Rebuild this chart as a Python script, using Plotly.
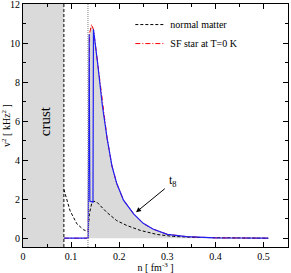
import plotly.graph_objects as go

# ---- data ----
crust_edge = 0.085
sf_onset = 0.135

normal_n = [0.085, 0.098, 0.112, 0.126, 0.133, 0.1355, 0.138, 0.143, 0.1465, 0.1535,
            0.174, 0.195, 0.216, 0.244, 0.279, 0.313, 0.36, 0.40, 0.45, 0.51]
normal_v2 = [2.5, 1.4, 0.74, 0.43, 0.36, 0.4, 1.25, 1.8, 1.9, 1.85,
             1.33, 0.9, 0.65, 0.4, 0.19, 0.09, 0.04, 0.02, 0.01, 0.0]

sf_n = [0.085, 0.1355, 0.1385, 0.1425, 0.1465, 0.155, 0.165, 0.175, 0.185, 0.195,
        0.209, 0.23, 0.25, 0.27, 0.30, 0.34, 0.40, 0.45, 0.51]
sf_v2 = [0.0, 0.0, 10.5, 10.95, 10.7, 9.0, 6.8, 5.1, 3.7, 2.8,
         1.95, 1.25, 0.76, 0.47, 0.2, 0.08, 0.02, 0.01, 0.0]

t8_n = [0.085, 0.1355, 0.1375, 0.139, 0.1455, 0.1465, 0.155, 0.165, 0.175, 0.185,
        0.195, 0.209, 0.23, 0.25, 0.27, 0.30, 0.34, 0.40, 0.45, 0.51]
t8_v2 = [0.0, 0.0, 10.45, 1.9, 1.85, 10.7, 9.0, 6.8, 5.1, 3.7,
         2.8, 1.95, 1.25, 0.76, 0.47, 0.2, 0.08, 0.02, 0.01, 0.0]

x_ticks = [0, 0.1, 0.2, 0.3, 0.4, 0.5]
x_tick_labels = ["0", "0.1", "0.2", "0.3", "0.4", "0.5"]
y_ticks = [0, 2, 4, 6, 8, 10, 12]

FONT = "Liberation Serif"
GRAY = "rgb(218,218,218)"

fig = go.Figure()

# gray fill under SF curve
fig.add_trace(go.Scatter(x=[n for n in sf_n if n >= sf_onset],
                         y=[v for n, v in zip(sf_n, sf_v2) if n >= sf_onset],
                         mode="lines", line=dict(width=0), fill="tozeroy",
                         fillcolor=GRAY, showlegend=False, hoverinfo="skip"))

fig.add_trace(go.Scatter(x=normal_n, y=normal_v2, mode="lines", name="normal matter",
                         line=dict(color="black", width=1, dash="3px,2px")))
fig.add_trace(go.Scatter(x=sf_n, y=sf_v2, mode="lines", name="SF star at T=0 K",
                         line=dict(color="red", width=1, dash="5px,2px,1px,2px")))
fig.add_trace(go.Scatter(x=t8_n, y=t8_v2, mode="lines", showlegend=False,
                         line=dict(color="rgb(30,30,245)", width=1.2)))

# crust region and boundary lines
fig.add_shape(type="rect", xref="x", yref="paper", x0=0, x1=crust_edge, y0=0, y1=1,
              fillcolor=GRAY, line=dict(width=0), layer="below")
fig.add_shape(type="line", xref="x", yref="paper", x0=crust_edge, x1=crust_edge, y0=0, y1=1,
              line=dict(color="black", width=1, dash="3px,2px"))
fig.add_shape(type="line", xref="x", yref="paper", x0=sf_onset, x1=sf_onset, y0=0, y1=1,
              line=dict(color="rgb(170,170,170)", width=1.5, dash="1px,1px"))

fig.add_annotation(x=0.046, y=6.0, text="crust", showarrow=False, textangle=-90,
                   font=dict(family=FONT, size=15, color="black"))
fig.add_annotation(x=0.235, y=1.33, ax=0.298, ay=2.6, axref="x", ayref="y",
                   text="", showarrow=True, arrowhead=2, arrowsize=1, arrowwidth=1,
                   arrowcolor="black")
fig.add_annotation(x=0.312, y=2.95, text="t<sub>8</sub>", showarrow=False,
                   font=dict(family=FONT, size=12, color="black"))

axis_common = dict(showline=True, linecolor="black", linewidth=1, mirror="allticks",
                   ticks="inside", ticklen=5, tickcolor="black", showgrid=False,
                   zeroline=False, automargin=False, ticklabeloverflow="allow",
                   tickfont=dict(family=FONT, size=10, color="black"))

fig.update_xaxes(range=[0, 0.551], tickvals=x_ticks, ticktext=x_tick_labels,
                 minor=dict(dtick=0.05, ticks="inside", ticklen=3, tickcolor="black"),
                 title=dict(text="n [ fm<sup>-3</sup> ]", font=dict(family=FONT, size=10),
                            standoff=0),
                 ticklabelstandoff=0,
                 **axis_common)
fig.update_yaxes(range=[-0.45, 12], tickvals=y_ticks,
                 minor=dict(dtick=1, ticks="inside", ticklen=3, tickcolor="black"),
                 title=dict(text="v<sup>2</sup> [ kHz<sup>2</sup> ]",
                            font=dict(family=FONT, size=10), standoff=0),
                 **axis_common)

fig.update_layout(
    width=291, height=273,
    margin=dict(l=23, r=3, t=4, b=26),
    paper_bgcolor="white", plot_bgcolor="white",
    font=dict(family=FONT, size=10, color="black"),
    legend=dict(x=0.405, y=0.975, xanchor="left", yanchor="top", itemwidth=30,
                bgcolor="rgba(0,0,0,0)", font=dict(family=FONT, size=10),
                tracegroupgap=0),
)

fig.write_html("out.html", config={"displayModeBar": False},
               post_script="document.body.style.margin='0px';document.body.style.overflow='hidden';")
